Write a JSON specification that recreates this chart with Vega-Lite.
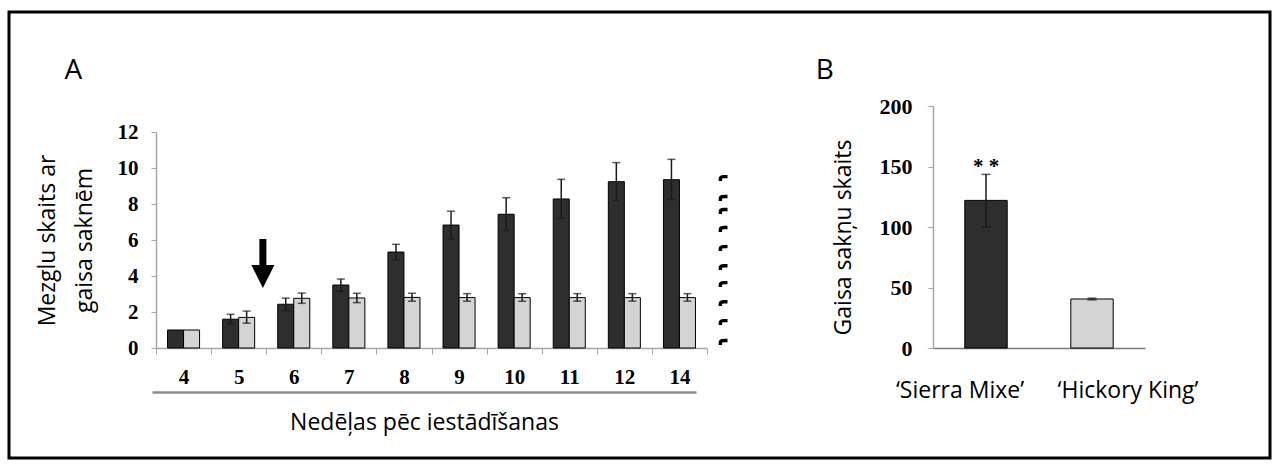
{
  "$schema": "https://vega.github.io/schema/vega-lite/v6.json",
  "width": 1261,
  "height": 446,
  "autosize": {"type": "none"},
  "padding": {"left": 9, "top": 12, "right": 3, "bottom": 6},
  "background": "white",
  "config": {
    "view": {"stroke": "black", "strokeWidth": 3},
    "axis": {"grid": false, "labelColor": "black", "titleColor": "black", "titleFontWeight": "normal", "titleFont": "Open Sans", "labelFlush": false, "labelOverlap": false}
  },
  "datasets": {
    "weekly": [
      {"wk": "4", "variety": "Sierra Mixe", "mean": 1.0, "lo": null, "hi": null},
      {"wk": "4", "variety": "Hickory King", "mean": 1.0, "lo": null, "hi": null},
      {"wk": "5", "variety": "Sierra Mixe", "mean": 1.6, "lo": 1.35, "hi": 1.87},
      {"wk": "5", "variety": "Hickory King", "mean": 1.7, "lo": 1.38, "hi": 2.05},
      {"wk": "6", "variety": "Sierra Mixe", "mean": 2.43, "lo": 2.08, "hi": 2.77},
      {"wk": "6", "variety": "Hickory King", "mean": 2.76, "lo": 2.48, "hi": 3.05},
      {"wk": "7", "variety": "Sierra Mixe", "mean": 3.5, "lo": 3.15, "hi": 3.83},
      {"wk": "7", "variety": "Hickory King", "mean": 2.78, "lo": 2.52, "hi": 3.04},
      {"wk": "8", "variety": "Sierra Mixe", "mean": 5.33, "lo": 4.9, "hi": 5.76},
      {"wk": "8", "variety": "Hickory King", "mean": 2.81, "lo": 2.6, "hi": 3.04},
      {"wk": "9", "variety": "Sierra Mixe", "mean": 6.83, "lo": 6.05, "hi": 7.6},
      {"wk": "9", "variety": "Hickory King", "mean": 2.8, "lo": 2.6, "hi": 3.02},
      {"wk": "10", "variety": "Sierra Mixe", "mean": 7.43, "lo": 6.55, "hi": 8.35},
      {"wk": "10", "variety": "Hickory King", "mean": 2.8, "lo": 2.6, "hi": 3.02},
      {"wk": "11", "variety": "Sierra Mixe", "mean": 8.28, "lo": 7.2, "hi": 9.37},
      {"wk": "11", "variety": "Hickory King", "mean": 2.8, "lo": 2.6, "hi": 3.02},
      {"wk": "12", "variety": "Sierra Mixe", "mean": 9.24, "lo": 8.2, "hi": 10.3},
      {"wk": "12", "variety": "Hickory King", "mean": 2.8, "lo": 2.6, "hi": 3.02},
      {"wk": "14", "variety": "Sierra Mixe", "mean": 9.35, "lo": 8.25, "hi": 10.48},
      {"wk": "14", "variety": "Hickory King", "mean": 2.8, "lo": 2.6, "hi": 3.02}
    ],
    "roots": [
      {"variety": "Sierra Mixe", "mean": 122, "lo": 100, "hi": 143.5},
      {"variety": "Hickory King", "mean": 40.5, "lo": 39.8, "hi": 41.2}
    ],
    "hooks": [
      {"v": 9.39}, {"v": 8.28}, {"v": 7.56}, {"v": 6.56}, {"v": 5.5},
      {"v": 4.44}, {"v": 3.5}, {"v": 2.44}, {"v": 1.39}, {"v": 0.28}
    ]
  },
  "layer": [
    {
      "data": {"name": "weekly"},
      "mark": {"type": "bar", "stroke": "black", "strokeWidth": 1},
      "encoding": {
        "x": {
          "field": "wk", "type": "nominal",
          "scale": {"type": "band", "domain": ["4","5","6","7","8","9","10","11","12","14"], "range": [147, 698], "paddingInner": 0, "paddingOuter": 0},
          "axis": {"orient": "bottom", "offset": -110, "tickBand": "extent", "domainColor": "#a6a6a6", "domainWidth": 1.5, "tickColor": "#a6a6a6", "tickSize": 6, "labelAngle": 0, "labelFont": "Liberation Serif", "labelFontWeight": "bold", "labelFontSize": 21, "labelPadding": 12, "title": null}
        },
        "xOffset": {"field": "variety", "type": "nominal", "scale": {"domain": ["Sierra Mixe", "Hickory King"], "paddingInner": 0, "paddingOuter": 0.72}},
        "y": {
          "field": "mean", "type": "quantitative",
          "scale": {"domain": [0, 12], "range": [336, 120], "nice": false},
          "axis": {"orient": "left", "offset": -147, "values": [0,2,4,6,8,10,12], "domainColor": "#a6a6a6", "domainWidth": 1.5, "tickColor": "#a6a6a6", "tickSize": 5, "labelFont": "Liberation Serif", "labelFontWeight": "bold", "labelFontSize": 21, "labelPadding": 13, "title": ["Mezglu skaits ar", "gaisa saknēm"], "titleFontSize": 23, "titleLineHeight": 37, "titlePadding": 21}
        },
        "color": {"field": "variety", "type": "nominal", "scale": {"domain": ["Sierra Mixe", "Hickory King"], "range": ["#2e2e2e", "#d4d4d4"]}, "legend": null}
      }
    },
    {
      "data": {"name": "weekly"},
      "mark": {"type": "rule", "color": "#1a1a1a", "strokeWidth": 1.5},
      "encoding": {
        "x": {"field": "wk", "type": "nominal", "scale": {"type": "band", "domain": ["4","5","6","7","8","9","10","11","12","14"], "range": [147, 698], "paddingInner": 0, "paddingOuter": 0}, "axis": null},
        "xOffset": {"field": "variety", "type": "nominal", "scale": {"domain": ["Sierra Mixe", "Hickory King"], "paddingInner": 0, "paddingOuter": 0.72}},
        "y": {"field": "lo", "type": "quantitative", "scale": {"domain": [0, 12], "range": [336, 120], "nice": false}, "axis": null},
        "y2": {"field": "hi"}
      }
    },
    {
      "data": {"name": "weekly"},
      "mark": {"type": "tick", "color": "#1a1a1a", "thickness": 1.5, "size": 8},
      "encoding": {
        "x": {"field": "wk", "type": "nominal", "scale": {"type": "band", "domain": ["4","5","6","7","8","9","10","11","12","14"], "range": [147, 698], "paddingInner": 0, "paddingOuter": 0}, "axis": null},
        "xOffset": {"field": "variety", "type": "nominal", "scale": {"domain": ["Sierra Mixe", "Hickory King"], "paddingInner": 0, "paddingOuter": 0.72}},
        "y": {"field": "lo", "type": "quantitative", "scale": {"domain": [0, 12], "range": [336, 120], "nice": false}, "axis": null}
      }
    },
    {
      "data": {"name": "weekly"},
      "mark": {"type": "tick", "color": "#1a1a1a", "thickness": 1.5, "size": 8},
      "encoding": {
        "x": {"field": "wk", "type": "nominal", "scale": {"type": "band", "domain": ["4","5","6","7","8","9","10","11","12","14"], "range": [147, 698], "paddingInner": 0, "paddingOuter": 0}, "axis": null},
        "xOffset": {"field": "variety", "type": "nominal", "scale": {"domain": ["Sierra Mixe", "Hickory King"], "paddingInner": 0, "paddingOuter": 0.72}},
        "y": {"field": "hi", "type": "quantitative", "scale": {"domain": [0, 12], "range": [336, 120], "nice": false}, "axis": null}
      }
    },
    {
      "data": {"values": [{"t": "arrow"}]},
      "mark": {"type": "point", "shape": "M-0.143,-1L0.143,-1L0.143,0.06L0.47,0.06L0,1L-0.47,0.06L-0.143,0.06Z", "filled": true, "color": "black", "size": 2401, "opacity": 1},
      "encoding": {
        "x": {"datum": "5", "type": "nominal", "bandPosition": 0.94, "scale": {"type": "band", "domain": ["4","5","6","7","8","9","10","11","12","14"], "range": [147, 698], "paddingInner": 0, "paddingOuter": 0}, "axis": null},
        "y": {"datum": 4.69, "type": "quantitative", "scale": {"domain": [0, 12], "range": [336, 120], "nice": false}, "axis": null}
      }
    },
    {
      "data": {"name": "hooks"},
      "mark": {"type": "point", "shape": "M-0.8,0.5L-0.8,0Q-0.8,-0.6 0.1,-0.6L1,-0.6", "filled": false, "stroke": "black", "strokeWidth": 3.4, "size": 64, "opacity": 1},
      "encoding": {
        "x": {"datum": "14", "type": "nominal", "bandPosition": 1.3, "scale": {"type": "band", "domain": ["4","5","6","7","8","9","10","11","12","14"], "range": [147, 698], "paddingInner": 0, "paddingOuter": 0}, "axis": null},
        "y": {"field": "v", "type": "quantitative", "scale": {"domain": [0, 12], "range": [336, 120], "nice": false}, "axis": null}
      }
    },
    {
      "data": {"values": [{"t": "A"}]},
      "mark": {"type": "text", "font": "Open Sans", "fontSize": 28, "align": "center", "baseline": "middle", "color": "black"},
      "encoding": {
        "x": {"datum": "4", "type": "nominal", "bandPosition": -1.5, "scale": {"type": "band", "domain": ["4","5","6","7","8","9","10","11","12","14"], "range": [147, 698], "paddingInner": 0, "paddingOuter": 0}, "axis": null},
        "y": {"datum": 15.4, "type": "quantitative", "scale": {"domain": [0, 12], "range": [336, 120], "nice": false}, "axis": null},
        "text": {"field": "t"}
      }
    },
    {
      "data": {"name": "roots"},
      "mark": {"type": "bar", "stroke": "black", "strokeWidth": 1, "width": {"band": 0.4}},
      "encoding": {
        "x": {
          "field": "variety", "type": "nominal",
          "scale": {"type": "band", "domain": ["Sierra Mixe", "Hickory King"], "range": [924, 1136], "paddingInner": 0, "paddingOuter": 0},
          "axis": {"orient": "bottom", "offset": -110, "ticks": false, "tickSize": 0, "domainColor": "#7a7a7a", "domainWidth": 1.5, "labelAngle": 0, "labelFont": "Open Sans", "labelFontSize": 23, "labelPadding": 31, "labelExpr": "'‘' + datum.label + '’'", "labelOffset": {"condition": {"test": "datum.value === 'Sierra Mixe'", "value": -26}, "value": 36}, "title": null}
        },
        "y": {
          "field": "mean", "type": "quantitative",
          "scale": {"domain": [0, 200], "range": [336, 94], "nice": false},
          "axis": {"orient": "left", "offset": -924, "values": [0,50,100,150,200], "domainColor": "#a6a6a6", "domainWidth": 1.5, "tickColor": "#a6a6a6", "tickSize": 5, "labelFont": "Liberation Serif", "labelFontWeight": "bold", "labelFontSize": 22, "labelPadding": 16, "title": "Gaisa sakņu skaits", "titleFontSize": 23, "titlePadding": 24, "titleY": 225}
        },
        "color": {"field": "variety", "type": "nominal", "legend": null}
      }
    },
    {
      "data": {"name": "roots"},
      "mark": {"type": "rule", "color": "#1a1a1a", "strokeWidth": 1.5},
      "encoding": {
        "x": {"field": "variety", "type": "nominal", "scale": {"type": "band", "domain": ["Sierra Mixe", "Hickory King"], "range": [924, 1136], "paddingInner": 0, "paddingOuter": 0}, "axis": null},
        "y": {"field": "lo", "type": "quantitative", "scale": {"domain": [0, 200], "range": [336, 94], "nice": false}, "axis": null},
        "y2": {"field": "hi"}
      }
    },
    {
      "data": {"name": "roots"},
      "mark": {"type": "tick", "color": "#1a1a1a", "thickness": 1.5, "size": 9},
      "encoding": {
        "x": {"field": "variety", "type": "nominal", "scale": {"type": "band", "domain": ["Sierra Mixe", "Hickory King"], "range": [924, 1136], "paddingInner": 0, "paddingOuter": 0}, "axis": null},
        "y": {"field": "lo", "type": "quantitative", "scale": {"domain": [0, 200], "range": [336, 94], "nice": false}, "axis": null}
      }
    },
    {
      "data": {"name": "roots"},
      "mark": {"type": "tick", "color": "#1a1a1a", "thickness": 1.5, "size": 9},
      "encoding": {
        "x": {"field": "variety", "type": "nominal", "scale": {"type": "band", "domain": ["Sierra Mixe", "Hickory King"], "range": [924, 1136], "paddingInner": 0, "paddingOuter": 0}, "axis": null},
        "y": {"field": "hi", "type": "quantitative", "scale": {"domain": [0, 200], "range": [336, 94], "nice": false}, "axis": null}
      }
    },
    {
      "data": {"values": [{"t": "* *"}]},
      "mark": {"type": "text", "font": "Liberation Serif", "fontWeight": "bold", "fontSize": 21, "align": "center", "baseline": "alphabetic", "color": "black"},
      "encoding": {
        "x": {"datum": "Sierra Mixe", "type": "nominal", "scale": {"type": "band", "domain": ["Sierra Mixe", "Hickory King"], "range": [924, 1136], "paddingInner": 0, "paddingOuter": 0}, "axis": null},
        "y": {"datum": 145, "type": "quantitative", "scale": {"domain": [0, 200], "range": [336, 94], "nice": false}, "axis": null},
        "text": {"field": "t"}
      }
    },
    {
      "data": {"values": [{"t": "B"}]},
      "mark": {"type": "text", "font": "Open Sans", "fontSize": 28, "align": "center", "baseline": "middle", "color": "black"},
      "encoding": {
        "x": {"datum": "Sierra Mixe", "type": "nominal", "bandPosition": -1.02, "scale": {"type": "band", "domain": ["Sierra Mixe", "Hickory King"], "range": [924, 1136], "paddingInner": 0, "paddingOuter": 0}, "axis": null},
        "y": {"datum": 229, "type": "quantitative", "scale": {"domain": [0, 200], "range": [336, 94], "nice": false}, "axis": null},
        "text": {"field": "t"}
      }
    },
    {
      "data": {"name": "weekly"},
      "mark": {"type": "point", "opacity": 0},
      "encoding": {
        "x": {
          "field": "wk", "type": "nominal",
          "scale": {"type": "point", "domain": ["4","5","6","7","8","9","10","11","12","14"], "range": [143, 687], "padding": 0},
          "axis": {"orient": "bottom", "offset": -66, "ticks": false, "labels": false, "domainColor": "#8c8c8c", "domainWidth": 2.5, "title": "Nedēļas pēc iestādīšanas", "titleFontSize": 23, "titlePadding": 19}
        }
      }
    }
  ],
  "resolve": {
    "scale": {"x": "independent", "y": "independent", "xOffset": "independent", "color": "shared"},
    "axis": {"x": "independent", "y": "independent"}
  }
}
